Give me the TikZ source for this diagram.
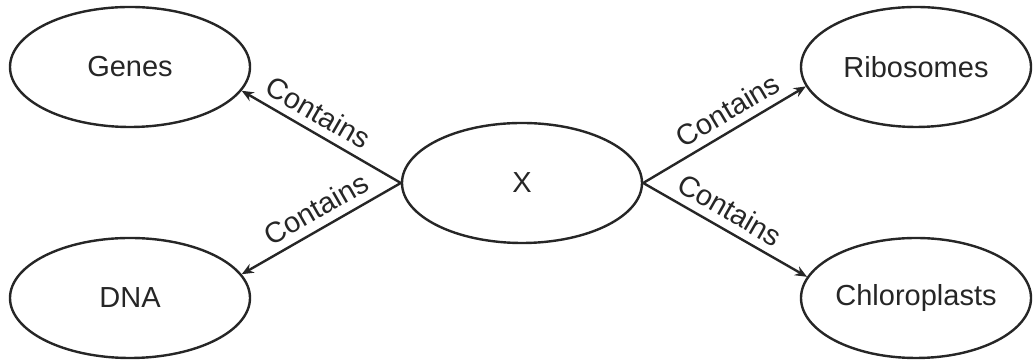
\documentclass[tikz,border=0pt]{standalone}
\usepackage{fontspec}
\setmainfont{Liberation Sans}
\usetikzlibrary{shapes.geometric,arrows.meta}

\begin{document}
\begin{tikzpicture}[x=0.5pt,y=0.5pt,font=\fontsize{14.5}{17}\selectfont,line width=1.2pt,color={black!85}]

        \useasboundingbox (0,0) rectangle (1033,362);

        \begin{scope}[every node/.style={ellipse,draw,inner sep=0pt,minimum width=120pt,minimum height=60pt}]
          \node (genes)        at (130,295) {Genes};
          \node (dna)          at (130,64)  {DNA};
          \node (x)            at (522,179) {X};
          \node[minimum width=115pt] (ribosomes)    at (916,295) {Ribosomes};
          \node[minimum width=115pt] (chloroplasts) at (916,64)  {Chloroplasts};
        \end{scope}

        \begin{scope}[every node/.style={sloped,above,inner sep=4pt}]

          \begin{scope}[every edge/.style={draw,-{Stealth[length=6pt,width=5pt,inset=2pt]}}]
            \path (x.west) edge node[pos=0.58] {Contains} (genes.-12.5);
            \path (x.west) edge node[pos=0.47] {Contains} (dna.12.5);
            \path (x.east) edge node[pos=0.58] {Contains} (ribosomes.190.7);
            \path (x.east) edge node[pos=0.47] {Contains} (chloroplasts.169.3);
          \end{scope}
        \end{scope}

      \end{tikzpicture}
\end{document}
